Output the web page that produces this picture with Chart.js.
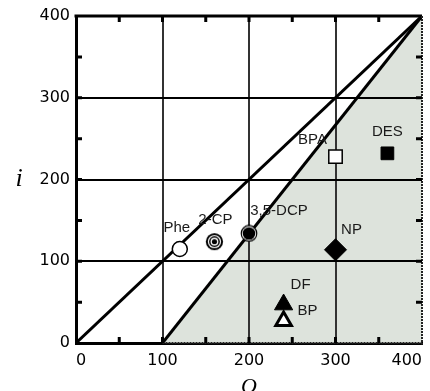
<!DOCTYPE html>
<html>
<head>
<meta charset="utf-8">
<script src="https://cdn.jsdelivr.net/npm/chart.js@4/dist/chart.umd.min.js"></script>
<style>
  html, body { margin: 0; padding: 0; background: #fff; }
  #wrap { width: 430px; height: 391px; position: relative; }
</style>
</head>
<body>
<div id="wrap"><canvas id="c" width="430" height="391"></canvas></div>
<script>
// Compounds plotted by their O and i values
const compounds = ['Phe', '2-CP', '3,5-DCP', 'BPA', 'DES', 'NP', 'DF', 'BP'];
const oValues = [120, 160, 200, 300, 360, 300, 240, 240];
const iValues = [115, 124, 134, 228, 232, 114, 47, 27];

// Boundary lines: i = O, and the shifted line from O = 100 up to the corner
const equalLineO = [0, 400];
const equalLineI = [0, 400];
const shiftedLineO = [100, 400];
const shiftedLineI = [0, 400];

// Axis range and labelled ticks
const axisMin = 0;
const axisMax = 400;
const axisTickLabels = [0, 100, 200, 300, 400];

const FONT = '"Liberation Sans", Arial, Helvetica, sans-serif';
const TICK_FONT = '"DejaVu Sans", "Liberation Sans", Arial, sans-serif';
const SERIF = '"Liberation Serif", "Times New Roman", serif';
const SHADE = 'rgb(221, 227, 220)';

// Marker images for the ringed symbols
function ringCanvas(size, rings) {
  const cv = document.createElement('canvas');
  cv.width = size; cv.height = size;
  const g = cv.getContext('2d');
  const c = size / 2;
  rings.forEach(([r, col]) => {
    g.beginPath();
    g.arc(c, c, r, 0, Math.PI * 2);
    g.fillStyle = col;
    g.fill();
  });
  return cv;
}
const bullseye = ringCanvas(19, [[8.6, '#000'], [6.6, '#fff'], [5.4, '#000'], [3.9, '#fff'], [2.6, '#000']]);
const ringedDot = ringCanvas(18, [[8.4, '#000'], [7.2, '#fff'], [6.3, '#000']]);

const markerStyles = {
  'Phe':     { pointStyle: 'circle',   radius: 7.5, bg: '#fff', border: '#000', bw: 1.5 },
  '2-CP':    { pointStyle: bullseye,   radius: 9,   bg: '#000', border: '#000', bw: 0 },
  '3,5-DCP': { pointStyle: ringedDot,  radius: 9,   bg: '#000', border: '#000', bw: 0 },
  'BPA':     { pointStyle: 'rect',     radius: 9.5, bg: '#fff', border: '#000', bw: 1.5 },
  'DES':     { pointStyle: 'rect',     radius: 9,   bg: '#000', border: '#000', bw: 1 },
  'NP':      { pointStyle: 'rectRot',  radius: 11,  bg: '#000', border: '#000', bw: 1 },
  'DF':      { pointStyle: 'triangle', radius: 10.5, bg: '#000', border: '#000', bw: 1 },
  'BP':      { pointStyle: 'triangle', radius: 9,   bg: '#fff', border: '#000', bw: 3 }
};

// Label placement relative to each marker, in pixels
const labelOffsets = {
  'Phe': [-3, -21], '2-CP': [1, -22], '3,5-DCP': [30, -23], 'BPA': [-23, -17],
  'DES': [0, -21], 'NP': [16, -20], 'DF': [17, -20], 'BP': [24, -10]
};

const toPoints = (xs, ys) => xs.map((x, k) => ({ x, y: ys[k] }));

const datasets = [];
// Shaded region below the shifted line
datasets.push({
  label: 'region',
  data: toPoints(shiftedLineO, shiftedLineI),
  showLine: true,
  borderWidth: 0,
  borderColor: 'rgba(0,0,0,0)',
  backgroundColor: SHADE,
  fill: 'origin',
  pointRadius: 0,
  order: 10
});
datasets.push({
  label: 'i = O',
  data: toPoints(equalLineO, equalLineI),
  showLine: true, fill: false,
  borderColor: '#000', borderWidth: 3,
  pointRadius: 0, order: 5
});
datasets.push({
  label: 'shifted',
  data: toPoints(shiftedLineO, shiftedLineI),
  showLine: true, fill: false,
  borderColor: '#000', borderWidth: 3,
  pointRadius: 0, order: 5
});
compounds.forEach((name, k) => {
  const s = markerStyles[name];
  datasets.push({
    label: name,
    data: [{ x: oValues[k], y: iValues[k] }],
    pointStyle: s.pointStyle,
    pointRadius: s.radius,
    pointBackgroundColor: s.bg,
    pointBorderColor: s.border,
    pointBorderWidth: s.bw,
    showLine: false,
    order: 0,
    clip: false
  });
});

const gridColor = (vertical) => (ctx) => {
  const v = ctx.tick && ctx.tick.value;
  if (v === undefined || v === axisMin || v === axisMax) return 'rgba(0,0,0,0)';
  return axisTickLabels.includes(v) ? (vertical ? '#333' : '#000') : 'rgba(0,0,0,0)';
};

// Re-draw grid lines over the shaded region, below lines and markers
const gridOverShade = {
  id: 'gridOverShade',
  afterDatasetDraw(chart, args) {
    if (args.index !== 0) return;
    chart.scales.x.drawGrid(chart.chartArea);
    chart.scales.y.drawGrid(chart.chartArea);
  }
};

// Top/right frame and short inward ticks every 50 on all four sides
const frameTicks = {
  id: 'frameTicks',
  afterDraw(chart) {
    const { ctx, chartArea: a, scales: { x, y } } = chart;
    ctx.save();
    ctx.strokeStyle = '#000';
    ctx.lineWidth = 3;
    ctx.beginPath();
    ctx.moveTo(a.left - 1.5, a.top); ctx.lineTo(a.right, a.top);
    ctx.stroke();
    ctx.lineWidth = 2;
    ctx.strokeStyle = '#222';
    ctx.setLineDash([2, 1]);
    ctx.beginPath();
    ctx.moveTo(a.right, a.top); ctx.lineTo(a.right, a.bottom + 1.5);
    ctx.stroke();
    ctx.beginPath();
    ctx.moveTo(x.getPixelForValue(100), a.bottom); ctx.lineTo(a.right, a.bottom);
    ctx.stroke();
    ctx.setLineDash([]);
    ctx.lineWidth = 3;
    ctx.strokeStyle = '#000';
    const len = 6;
    for (let v = 50; v < axisMax; v += 50) {
      const px = x.getPixelForValue(v);
      const py = y.getPixelForValue(v);
      ctx.beginPath();
      ctx.moveTo(px, a.top); ctx.lineTo(px, a.top + len);
      ctx.moveTo(px, a.bottom); ctx.lineTo(px, a.bottom - len);
      ctx.moveTo(a.left, py); ctx.lineTo(a.left + len, py);
      ctx.moveTo(a.right, py); ctx.lineTo(a.right - len, py);
      ctx.stroke();
    }
    ctx.restore();
  }
};

// Compound names next to their markers
const pointLabels = {
  id: 'pointLabels',
  afterDatasetsDraw(chart) {
    const { ctx, scales: { x, y } } = chart;
    ctx.save();
    ctx.font = '15px ' + FONT;
    ctx.fillStyle = '#1a1a1a';
    ctx.textAlign = 'center';
    ctx.textBaseline = 'middle';
    compounds.forEach((name, k) => {
      const off = labelOffsets[name];
      ctx.fillText(name, x.getPixelForValue(oValues[k]) + off[0], y.getPixelForValue(iValues[k]) + off[1]);
    });
    ctx.restore();
  }
};

// Axis titles: upright italic "i" on the left, "O" below
const axisTitles = {
  id: 'axisTitles',
  afterDraw(chart) {
    const { ctx, chartArea: a } = chart;
    ctx.save();
    ctx.fillStyle = '#000';
    ctx.font = 'italic 26px ' + SERIF;
    ctx.textAlign = 'center';
    ctx.textBaseline = 'middle';
    ctx.fillText('i', 19, (a.top + a.bottom) / 2);
    ctx.font = 'italic 22px ' + SERIF;
    ctx.textBaseline = 'alphabetic';
    ctx.fillText('O', (a.left + a.right) / 2, 393);
    ctx.restore();
  }
};

new Chart(document.getElementById('c'), {
  type: 'scatter',
  data: { datasets },
  options: {
    responsive: false,
    devicePixelRatio: 1,
    animation: false,
    layout: { autoPadding: false, padding: { left: 0, right: 4, top: 16, bottom: 0 } },
    plugins: { legend: { display: false }, tooltip: { enabled: false } },
    scales: {
      x: {
        type: 'linear', min: axisMin, max: axisMax,
        afterFit(s) { s.height = 48; },
        ticks: {
          stepSize: 50, padding: 8, color: '#000', align: 'inner',
          font: { family: TICK_FONT, size: 16 },
          maxRotation: 0, autoSkip: false,
          callback: (v) => axisTickLabels.includes(v) ? String(v) : ''
        },
        grid: { color: gridColor(true), lineWidth: 2, drawTicks: false },
        border: { display: true, color: '#000', width: 3 }
      },
      y: {
        type: 'linear', min: axisMin, max: axisMax,
        afterFit(s) { s.width = 76; },
        ticks: {
          stepSize: 50, padding: 6, color: '#000', align: 'inner',
          font: { family: TICK_FONT, size: 16 },
          autoSkip: false,
          callback: (v) => axisTickLabels.includes(v) ? String(v) : ''
        },
        grid: { color: gridColor(false), lineWidth: 2, drawTicks: false },
        border: { display: true, color: '#000', width: 3 }
      }
    }
  },
  plugins: [gridOverShade, frameTicks, pointLabels, axisTitles]
});
</script>
</body>
</html>
